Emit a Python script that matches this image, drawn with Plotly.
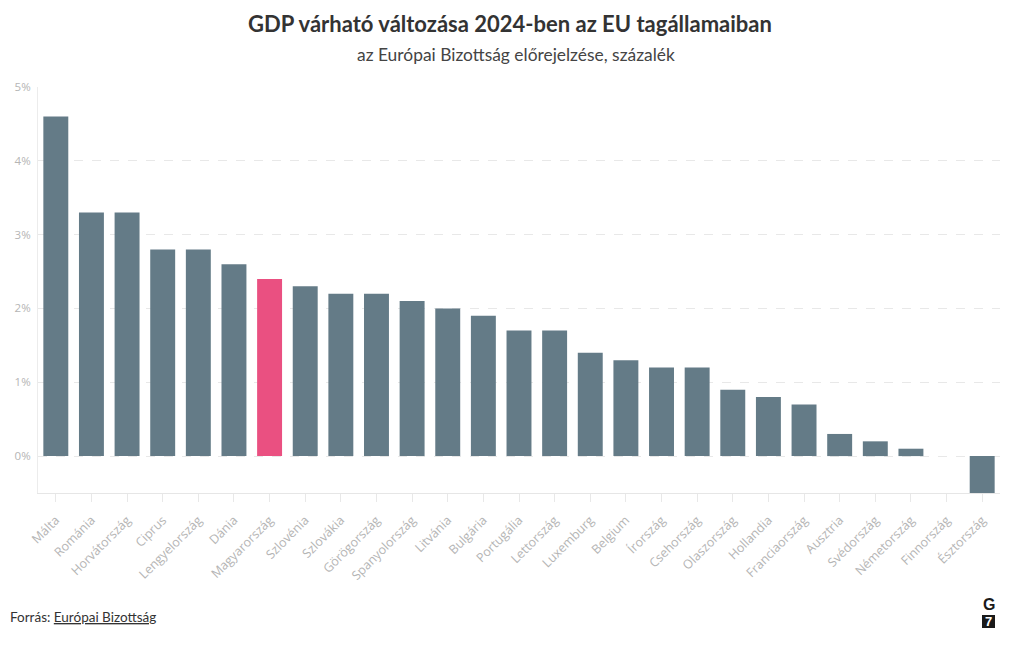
import plotly.graph_objects as go

countries = ["Málta", "Románia", "Horvátország", "Ciprus", "Lengyelország", "Dánia",
             "Magyarország", "Szlovénia", "Szlovákia", "Görögország", "Spanyolország",
             "Litvánia", "Bulgária", "Portugália", "Lettország", "Luxemburg", "Belgium",
             "Írország", "Csehország", "Olaszország", "Hollandia", "Franciaország",
             "Ausztria", "Svédország", "Németország", "Finnország", "Észtország"]
gdp = [4.6, 3.3, 3.3, 2.8, 2.8, 2.6, 2.4, 2.3, 2.2, 2.2, 2.1, 2.0, 1.9, 1.7, 1.7,
       1.4, 1.3, 1.2, 1.2, 0.9, 0.8, 0.7, 0.3, 0.2, 0.1, 0.0, -0.5]
highlight = "Magyarország"
y_ticks = [0, 1, 2, 3, 4, 5]
y_tick_labels = ["0%", "1%", "2%", "3%", "4%", "5%"]

colors = ["#ea5081" if c == highlight else "#647b87" for c in countries]

fig = go.Figure(go.Bar(x=countries, y=gdp, marker=dict(color=colors, line=dict(width=0)),
                       hovertemplate="%{x}: %{y}%<extra></extra>"))

PX_W, PX_H = 962, 406  # plot area size in px (for paper-relative placement)

fig.update_layout(
    width=1020, height=650,
    margin=dict(l=30, r=28, t=79, b=165, autoexpand=False),
    paper_bgcolor="white", plot_bgcolor="white",
    bargap=0.3,
    showlegend=False,
    font=dict(family="Open Sans, sans-serif", color="#bbbbbb"),
    title=dict(
        text="<b>GDP várható változása 2024-ben az EU tagállamaiban</b>",
        x=0.5 - 8/1020, xanchor="center", y=1 - 16/650, yanchor="middle",
        font=dict(family="Lato, sans-serif", size=22, color="#333333"),
    ),
)
fig.add_annotation(text="az Európai Bizottság előrejelzése, százalék",
                   xref="paper", yref="paper", x=(516-38)/PX_W, y=1, yshift=87 - 54,
                   xanchor="center", yanchor="middle", showarrow=False,
                   font=dict(family="Lato, sans-serif", size=17.4, color="#444444"))

fig.update_xaxes(
    tickangle=-45, tickfont=dict(size=12.5, color="#b5b5b5"),
    showline=True, linecolor="#e6e6e6", linewidth=1,
    ticks="outside", tickcolor="#e8e8e8", ticklen=8,
    showgrid=False, zeroline=False, automargin=False, ticklabelstandoff=6,
)
fig.update_yaxes(
    range=[-0.5, 5], tickvals=y_ticks, ticktext=y_tick_labels,
    tickfont=dict(size=11.5, color="#b5b5b5"),
    showgrid=True, gridcolor="#e8e8e8", griddash="dash", gridwidth=1,
    showline=True, linecolor="#ececec", linewidth=1,
    zeroline=False, ticks="", ticklabelstandoff=4, automargin=False,
)

fig.add_annotation(text="Forrás: <u>Európai Bizottság</u>",
                   xref="paper", yref="paper", x=-30/PX_W, y=-(617-493)/PX_H,
                   xanchor="left", yanchor="middle", showarrow=False,
                   font=dict(family="Lato, sans-serif", size=13.5, color="#333333"))
# G7 logo
fig.add_annotation(text="<b>G</b>", xref="paper", yref="paper",
                   x=(988.5-38)/PX_W, y=-(604-493)/PX_H, xanchor="center", yanchor="middle",
                   showarrow=False, font=dict(family="Liberation Sans, sans-serif", size=16, color="#1a1a1a"))
fig.add_shape(type="rect", xref="paper", yref="paper",
              x0=(982-38)/PX_W, x1=(995-38)/PX_W, y0=-(628-493)/PX_H, y1=-(615-493)/PX_H,
              fillcolor="#1a1a1a", line=dict(width=0))
fig.add_annotation(text="<b>7</b>", xref="paper", yref="paper",
                   x=(988.5-38)/PX_W, y=-(621.5-493)/PX_H, xanchor="center", yanchor="middle",
                   showarrow=False,
                   font=dict(family="Liberation Sans, sans-serif", size=13, color="white"))

fig.write_html("out.html")
